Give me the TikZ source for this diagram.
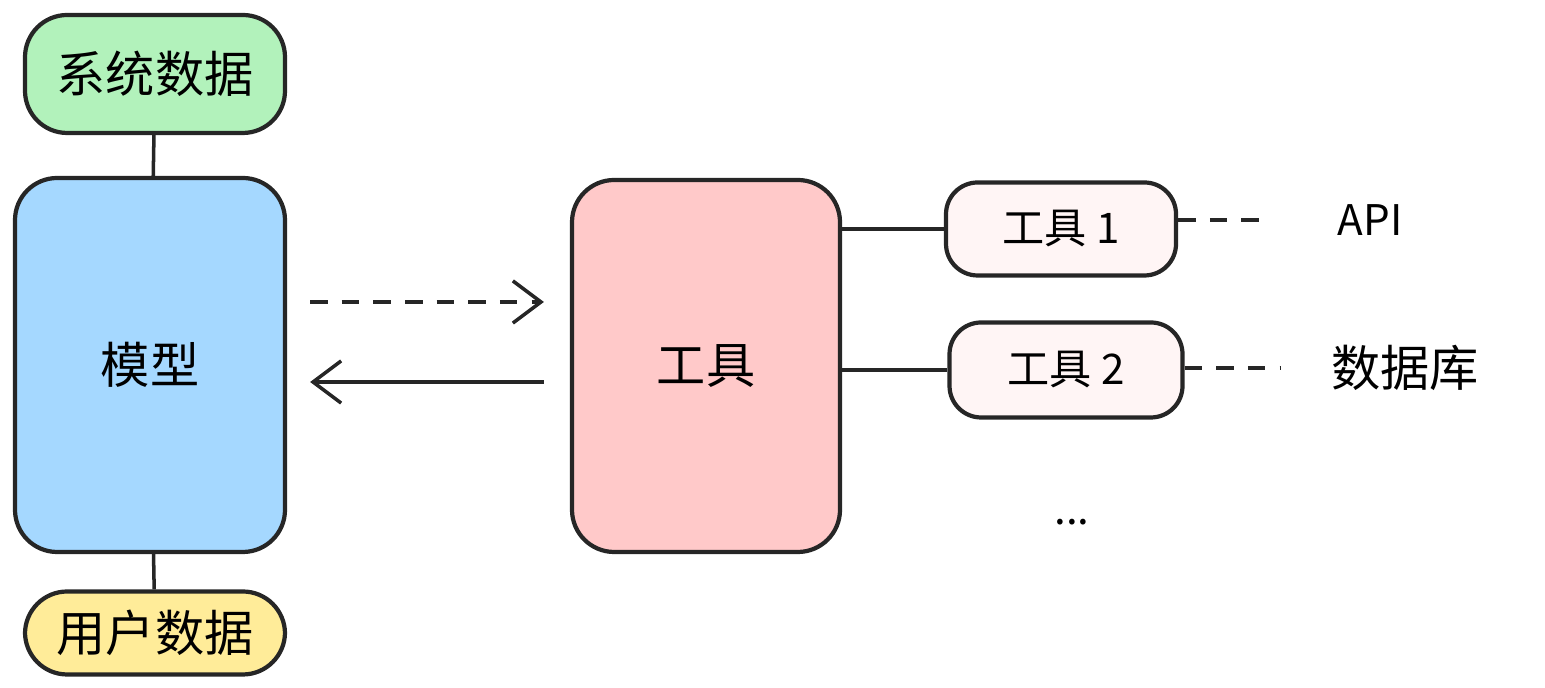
\documentclass[tikz,border=0pt]{standalone}
\usepackage{fontspec}
\setmainfont{Noto Sans CJK SC}
\usetikzlibrary{arrows.meta}
\definecolor{sysgreen}{HTML}{B2F2BB}
\definecolor{modelblue}{HTML}{A5D8FF}
\definecolor{useryellow}{HTML}{FFEC99}
\definecolor{toolpink}{HTML}{FFC9C9}
\definecolor{toolpale}{HTML}{FFF5F5}
\begin{document}
\begin{tikzpicture}[
    box/.style={draw=black!85, line width=1.2pt, rounded corners=12pt, inner sep=0pt, font=\fontsize{14pt}{16pt}\selectfont},
    link/.style={draw=black!85, line width=1pt},
    dlink/.style={link, dash pattern=on 5pt off 4pt},
    tip/.style={-{Straight Barb[length=8pt,width=12pt]}}]
    \useasboundingbox (0,0) rectangle (15.45,6.88);
    \node[box, fill=sysgreen, minimum width=2.6cm, minimum height=1.18cm] (sys) at (1.55,6.14) {系统数据};
    \node[box, fill=modelblue, minimum width=2.7cm, minimum height=3.74cm] (model) at (1.50,3.23) {模型};
    \node[box, fill=useryellow, minimum width=2.6cm, minimum height=0.83cm] (user) at (1.55,0.55) {用户数据};
    \node[box, fill=toolpink, minimum width=2.68cm, minimum height=3.72cm] (tool) at (7.06,3.22) {工具};
    \node[box, fill=toolpale, minimum width=2.3cm, minimum height=0.93cm, rounded corners=9pt, font=\fontsize{12pt}{14pt}\selectfont] (tool1) at (10.61,4.59) {工具 1};
    \node[box, fill=toolpale, minimum width=2.33cm, minimum height=0.95cm, rounded corners=9pt, font=\fontsize{12pt}{14pt}\selectfont] (tool2) at (10.66,3.18) {工具 2};
    \node[font=\fontsize{12pt}{14pt}\selectfont\itshape] (api) at (13.70,4.68) {API};
    \node[font=\fontsize{14pt}{16pt}\selectfont] (db) at (14.05,3.20) {数据库};
    \node[font=\fontsize{12pt}{14pt}\selectfont] (more) at (10.72,1.66) {...};
    \coordinate (apiend) at (12.72,4.68);
    \coordinate (dbend) at (12.80,3.20);
    % connectors
    \draw[link] (sys) -- (model);
    \draw[link] (model) -- (user);
    \draw[dlink, tip] ([xshift=0.23cm]model.east |- 0,3.86) -- ([xshift=-0.26cm]tool.west |- 0,3.86);
    \draw[link, tip] ([xshift=-0.26cm]tool.west |- 0,3.06) -- ([xshift=0.23cm]model.east |- 0,3.06);
    \draw[link] (tool.east |- tool1) -- (tool1.west);
    \draw[link] (tool.east |- tool2) -- (tool2.west);
    \draw[dlink] (tool1.east |- apiend) -- (apiend);
    \draw[dlink] (tool2.east |- dbend) -- (dbend);
\end{tikzpicture}
\end{document}
